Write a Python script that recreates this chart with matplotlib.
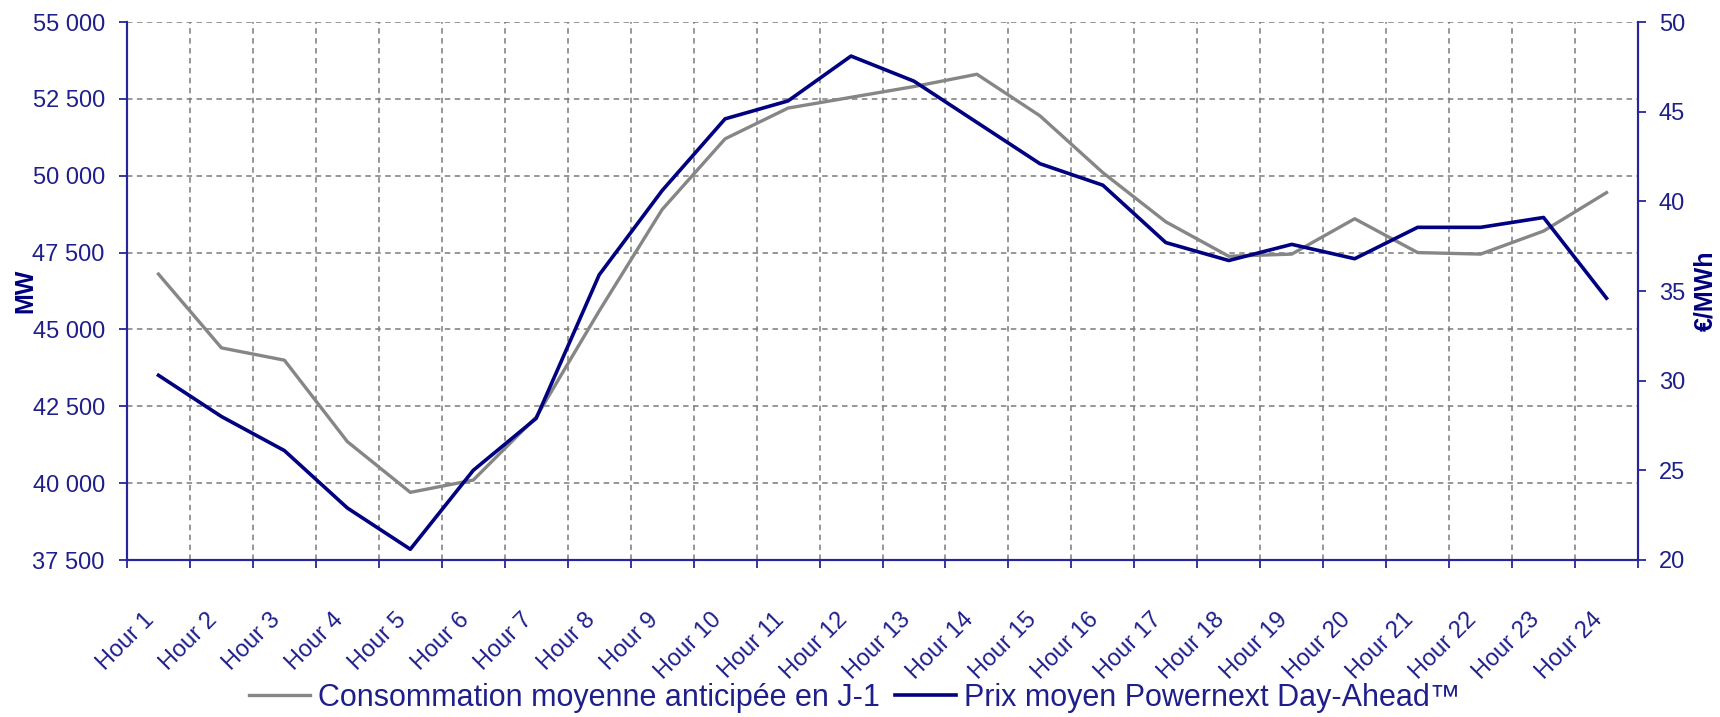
import matplotlib.pyplot as plt
import matplotlib.transforms as mtransforms
import numpy as np
from matplotlib.ticker import FuncFormatter, FixedLocator

hours = [f"Hour {i}" for i in range(1, 25)]

# Consommation moyenne anticipée (MW)
consommation = [46800, 44400, 44000, 41350, 39700, 40100, 42150, 45600,
                48900, 51200, 52200, 52550, 52900, 53300, 51950, 50100,
                48500, 47380, 47450, 48600, 47500, 47450, 48200, 49450]

# Prix moyen Powernext (€/MWh)
prix = [30.3, 28.0, 26.1, 22.9, 20.6, 25.0, 27.9, 35.9,
        40.6, 44.6, 45.6, 48.1, 46.7, 44.4, 42.1, 40.9,
        37.7, 36.7, 37.6, 36.8, 38.55, 38.55, 39.1, 34.6]

mw_ticks = [37500, 40000, 42500, 45000, 47500, 50000, 52500, 55000]
prix_ticks = [20, 25, 30, 35, 40, 45, 50]

AXIS_COLOR = '#26269a'
TEXT_COLOR = '#1f1f8c'
GRAY = '#868686'
NAVY = '#000080'

plt.rcParams['font.family'] = ['Liberation Sans', 'DejaVu Sans']


def make_chart():
    fig = plt.figure(figsize=(17.2, 7.17), dpi=100)
    ax = fig.add_axes([127 / 1720, 1 - 560 / 717, (1638 - 127) / 1720, (560 - 22) / 717])
    ax2 = ax.twinx()

    x = np.arange(len(hours)) + 0.5

    ax.plot(x, consommation, color=GRAY, linewidth=2.4,
            label='Consommation moyenne anticipée en J-1')
    ax2.plot(x, prix, color=NAVY, linewidth=2.6,
             label='Prix moyen Powernext Day-Ahead™')

    ax.set_xlim(0, len(hours))
    ax.set_ylim(37500, 55000)
    ax2.set_ylim(20, 50)

    # catégories : libellés au centre, traits et grille aux limites
    ax.xaxis.set_major_locator(FixedLocator(x))
    ax.set_xticklabels(hours)
    ax.xaxis.set_minor_locator(FixedLocator(np.arange(0, len(hours) + 1)))
    ax.tick_params(axis='x', which='major', length=0, pad=35,
                   labelsize=17, labelcolor=TEXT_COLOR)
    ax.tick_params(axis='x', which='minor', length=6, width=1.3,
                   color=AXIS_COLOR, direction='out')
    shift = mtransforms.ScaledTranslation(-15 / 100, 0, fig.dpi_scale_trans)
    for lbl in ax.get_xticklabels():
        lbl.set_rotation(45)
        lbl.set_ha('right')
        lbl.set_va('top')
        lbl.set_rotation_mode('anchor')
        lbl.set_transform(lbl.get_transform() + shift)

    ax.set_yticks(mw_ticks)
    ax.yaxis.set_major_formatter(FuncFormatter(lambda v, p: f"{v:,.0f}".replace(',', ' ')))
    ax.tick_params(axis='y', length=6, width=1.3, color=AXIS_COLOR,
                   labelsize=17, labelcolor=TEXT_COLOR, pad=10)

    ax2.set_yticks(prix_ticks)
    ax2.tick_params(axis='y', length=6, width=1.3, color=AXIS_COLOR,
                    labelsize=17, labelcolor=TEXT_COLOR, pad=9)

    # grille en pointillés
    ax.grid(True, which='minor', axis='x', color='#7a7a7a', linestyle=(0, (3.6, 2.9)), linewidth=1.1)
    ax.grid(True, which='major', axis='y', color='#7a7a7a', linestyle=(0, (3.6, 2.9)), linewidth=1.1)
    ax.set_axisbelow(True)

    for a in (ax, ax2):
        a.spines['top'].set_visible(False)
        for side in ('left', 'right', 'bottom'):
            a.spines[side].set_color(AXIS_COLOR)
            a.spines[side].set_linewidth(1.5)

    ax.set_ylabel('MW', fontsize=18, fontweight='bold', color=NAVY)
    ax2.set_ylabel('€/MWh', fontsize=18, fontweight='bold', color=NAVY, rotation=90)
    ax.yaxis.set_label_coords(-0.0596, 0.5)
    ax2.yaxis.set_label_coords(1.0364, 0.5)

    h1, l1 = ax.get_legend_handles_labels()
    h2, l2 = ax2.get_legend_handles_labels()
    leg = fig.legend(h1 + h2, l1 + l2, loc='center', bbox_to_anchor=(0.497, 0.027),
                     ncol=2, frameon=False, fontsize=22, handlelength=2.0,
                     handletextpad=0.25, columnspacing=0.5)
    for t in leg.get_texts():
        t.set_color(TEXT_COLOR)

    fig.savefig('out.png', dpi=100, facecolor='white')


if __name__ == "__main__":
    make_chart()
